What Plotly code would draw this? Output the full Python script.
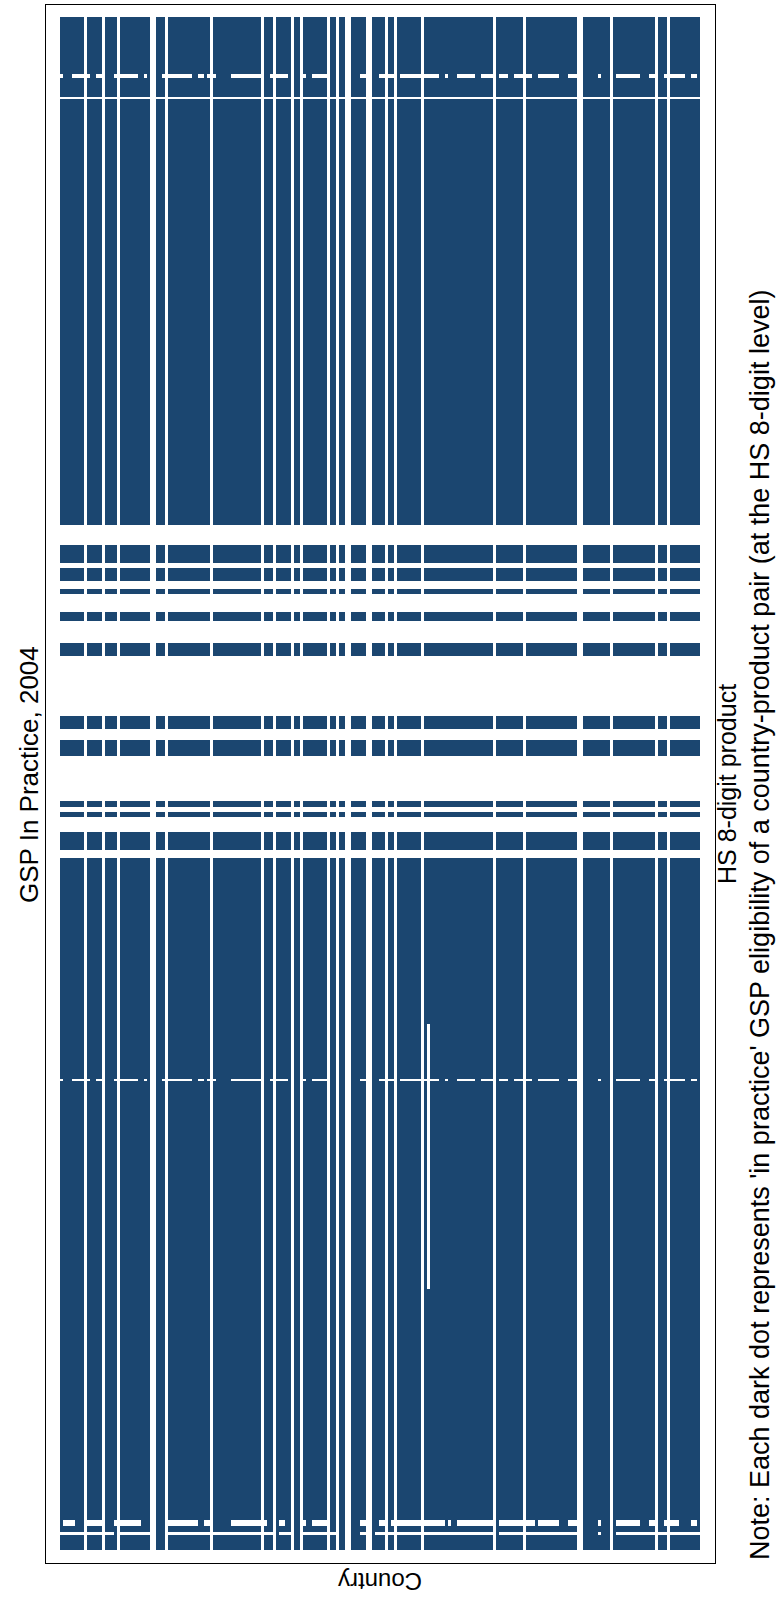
import numpy as np
import plotly.graph_objects as go

# ---- data -------------------------------------------------------------
N_COUNTRIES = 213          # beneficiary countries (columns)
N_PRODUCTS = 10000         # HS 8-digit product ranks (rows)

# countries with no GSP-eligible product at all
ineligible_countries = [8, 14, 19, 30, 31, 35, 50, 67, 71, 77, 80, 89, 92, 95, 96,
                        102, 103, 108, 111, 120, 144, 154, 172, 173, 183, 198, 202]

# product-rank ranges (inclusive start, exclusive end) that carry GSP eligibility
band_start = [0,    4566, 4781, 4847, 5179, 5247, 5355, 5832, 6060, 6236, 6321, 6438, 6479, 6686]
band_end   = [4514, 4684, 4814, 4886, 5244, 5284, 5440, 5916, 6119, 6269, 6406, 6476, 6556, 10000]

# country groups excluded for particular product ranges
pattern_a = [(0, 0), (4, 9), (12, 14), (18, 25), (28, 28), (34, 43), (46, 47), (49, 51),
             (57, 67), (70, 75), (81, 81), (84, 89), (100, 102), (106, 110), (113, 125),
             (128, 128), (132, 137), (140, 143), (146, 148), (151, 156), (159, 165),
             (169, 172), (179, 179), (185, 192), (196, 198), (201, 207), (210, 211)]
pattern_b = [(1, 4), (9, 14), (18, 26), (36, 45), (48, 49), (57, 68), (73, 74), (81, 81),
             (84, 89), (100, 102), (106, 108), (110, 127), (129, 129), (132, 143),
             (146, 149), (150, 157), (159, 165), (169, 172), (179, 179), (185, 192),
             (196, 198), (201, 205), (210, 211)]
pattern_c = [(0, 7), (9, 17), (20, 29), (36, 70), (73, 77), (81, 92), (100, 102),
             (105, 143), (146, 172), (179, 179), (185, 212)]
pattern_all = [(0, N_COUNTRIES - 1)]
pattern_single = [(122, 122)]

excl_start   = [9602,      9468,        3060,      157,       98,        1703]
excl_end     = [9628,      9475,        3073,      196,       117,       3431]
excl_pattern = [pattern_a, pattern_all, pattern_a, pattern_b, pattern_c, pattern_single]

# ---- eligibility grid ---------------------------------------------------
edges = sorted(set([0, N_PRODUCTS] + band_start + band_end + excl_start + excl_end))
country_ok = np.ones(N_COUNTRIES, dtype=bool)
country_ok[ineligible_countries] = False

z = np.full((len(edges) - 1, N_COUNTRIES), np.nan)
for k in range(len(edges) - 1):
    lo, hi = edges[k], edges[k + 1]
    mid = 0.5 * (lo + hi)
    if not any(s <= mid < e for s, e in zip(band_start, band_end)):
        continue
    row = country_ok.copy()
    for s, e, pat in zip(excl_start, excl_end, excl_pattern):
        if s <= mid < e:
            for a, b in pat:
                row[a:b + 1] = False
    z[k, row] = 1.0

x_edges = np.arange(N_COUNTRIES + 1) - 0.5

DOT = "#1b4670"
fig = go.Figure(go.Heatmap(
    x=x_edges, y=edges, z=z,
    colorscale=[[0, DOT], [1, DOT]], showscale=False,
    zsmooth=False, hoverinfo="skip",
))

# ---- layout -------------------------------------------------------------
L, R, T, B = 46, 715, 5, 1563          # panel frame in pixels
W, H = 777, 1601
s = 640 / N_COUNTRIES
x_lo = (L - 60) / s - 0.5
x_hi = (R - 60) / s - 0.5
per_px = N_PRODUCTS / 1533.0
y_lo = (1550 - B) * per_px
y_hi = (1550 - T) * per_px

axis_common = dict(showgrid=False, zeroline=False, showticklabels=False, ticks="",
                   showline=True, linecolor="black", linewidth=1.3, mirror=True)

fig.update_layout(
    width=W, height=H,
    margin=dict(l=L, r=W - R, t=T, b=H - B, pad=0),
    paper_bgcolor="white", plot_bgcolor="white",
    xaxis=dict(range=[x_lo, x_hi], **axis_common),
    yaxis=dict(range=[y_lo, y_hi], **axis_common),
    font=dict(family="Liberation Sans, Arial, sans-serif", color="black"),
    showlegend=False,
)

def px_x(p):
    return (p - L) / (R - L)

def px_y(p):
    return (B - p) / (B - T)

fig.add_annotation(text="GSP In Practice, 2004", xref="paper", yref="paper",
                   x=px_x(29), y=px_y(775), xanchor="center", yanchor="middle",
                   textangle=-90, showarrow=False, font=dict(size=26))
fig.add_annotation(text="HS 8-digit product", xref="paper", yref="paper",
                   x=px_x(727), y=0.5, xanchor="center", yanchor="middle",
                   textangle=-90, showarrow=False, font=dict(size=25))
fig.add_annotation(text="Country", xref="paper", yref="paper",
                   x=0.5, y=px_y(1582), xanchor="center", yanchor="middle",
                   textangle=180, showarrow=False, font=dict(size=24))
fig.add_annotation(text="Note: Each dark dot represents 'in practice' GSP eligibility of a "
                        "country-product pair (at the HS 8-digit level)",
                   xref="paper", yref="paper",
                   x=px_x(760), y=px_y(1562), xanchor="center", yanchor="bottom",
                   textangle=-90, showarrow=False, font=dict(size=27))

fig.write_html("out.html")
